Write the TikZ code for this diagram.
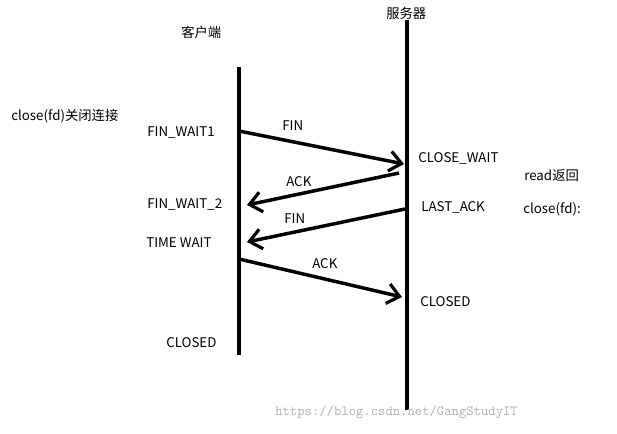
\documentclass[tikz,border=0pt]{standalone}
\usepackage{fontspec}
\setmainfont{Noto Sans CJK SC}
\usetikzlibrary{arrows.meta}
\tikzset{
  lifeline/.style={line width=3pt},
  msg/.style={line width=2.6pt,-{Straight Barb[length=9pt,width=15pt,line width=2.4pt]}},
  lbl/.style={anchor=west,inner sep=0.75pt,font=\fontsize{10}{12}\selectfont},
}
\begin{document}
\begin{tikzpicture}[x=0.75pt,y=0.75pt,yscale=-1,xscale=1]
\useasboundingbox[fill=white] (0,0) rectangle (617,433);

%Lifelines
\coordinate (c1) at (239,67);
\coordinate (c2) at (239,355);
\coordinate (s1) at (407,20);
\coordinate (s2) at (407,410);
\draw[lifeline] (c1) -- (c2);
\draw[lifeline] (s1) -- (s2);

%Message end points
\coordinate (f1a) at (239,131);
\coordinate (f1b) at (404,164);
\coordinate (a1a) at (399,173);
\coordinate (a1b) at (247,205);
\coordinate (f2a) at (405,209);
\coordinate (f2b) at (247,242);
\coordinate (a2a) at (239,259);
\coordinate (a2b) at (402,297);

%Messages
\draw[msg] (f1a) -- (f1b);
\draw[msg] (a1a) -- (a1b);
\draw[msg] (f2a) -- (f2b);
\draw[msg] (a2a) -- (a2b);

% Text Node
\node[lbl] (client) at (180,32) {客户端};
\node[lbl] (server) at (385,13) {服务器};
\node[lbl] (close1) at (10,116) {close(fd)关闭连接};
\node[lbl] (fw1) at (146,133) {FIN\_WAIT1};
\node[lbl] (fin1) at (281,126) {FIN};
\node[lbl] (cw) at (417,158) {CLOSE\_WAIT};
\node[lbl] (ack1) at (285,182) {ACK};
\node[lbl] (rd) at (523,176) {read返回};
\node[lbl] (fw2) at (146,205) {FIN\_WAIT\_2};
\node[lbl] (la) at (420,207) {LAST\_ACK};
\node[lbl] (close2) at (522,209) {close(fd):};
\node[lbl] (fin2) at (283,219) {FIN};
\node[lbl] (tw) at (145,243) {TIME WAIT};
\node[lbl] (ack2) at (311,264) {ACK};
\node[lbl] (scl) at (419,302) {CLOSED};
\node[lbl] (ccl) at (165,343) {CLOSED};
\node[lbl,text=black!30,font=\ttfamily\fontsize{10.5}{12}\selectfont] (wm) at (274,412) {https://blog.csdn.net/GangStudyIT};

\end{tikzpicture}
\end{document}
